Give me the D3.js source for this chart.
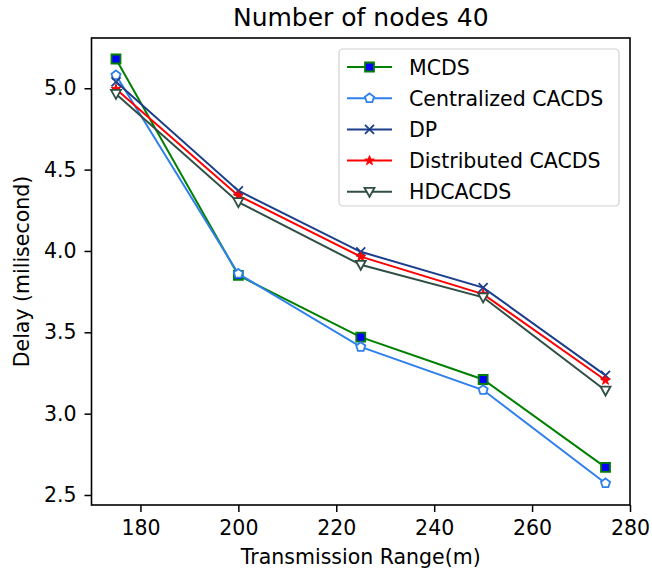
<!DOCTYPE html>
<html>
<head>
<meta charset="utf-8">
<title>Number of nodes 40</title>
<script src="https://cdn.jsdelivr.net/npm/d3@7"></script>
<style>
  body { margin: 0; background: #fff; }
  svg { font-family: "DejaVu Sans", sans-serif; }
</style>
</head>
<body>
<div id="chart"></div>
<script>
// data
var ranges = [175, 200, 225, 250, 275];
var mcds = [5.18, 3.85, 3.47, 3.21, 2.67];
var centralized = [5.08, 3.86, 3.41, 3.145, 2.572];
var dp = [5.04, 4.37, 3.995, 3.775, 3.235];
var distributed = [4.995, 4.34, 3.965, 3.735, 3.205];
var hdcacds = [4.965, 4.30, 3.915, 3.715, 3.142];
var xTicks = [180, 200, 220, 240, 260, 280];
var yTicks = [2.5, 3.0, 3.5, 4.0, 4.5, 5.0];

var series = [
  {name: "MCDS", values: mcds, color: "#008000", marker: "square", fill: "#0000ff"},
  {name: "Centralized CACDS", values: centralized, color: "#2f80ed", marker: "pentagon", fill: "#fff"},
  {name: "DP", values: dp, color: "#1c3f8c", marker: "x", fill: "none"},
  {name: "Distributed CACDS", values: distributed, color: "#ff0000", marker: "star", fill: "#ff0000"},
  {name: "HDCACDS", values: hdcacds, color: "#2f4f44", marker: "tri", fill: "#fff"}
];

var W = 652, H = 574;
var padL = 91.5, padR = 630, padT = 38, padB = 505;

var svg = d3.select("#chart").append("svg")
  .attr("width", W).attr("height", H);

var x = d3.scaleLinear().domain([170, 280]).range([padL, padR]);
var y = d3.scaleLinear().domain([2.4385, 5.309]).range([padB, padT]);

// marker paths
function markerPath(type) {
  if (type == "square") return "M-4.5,-4.5H4.5V4.5H-4.5Z";
  if (type == "x") return "M-4.5,-4.5L4.5,4.5M-4.5,4.5L4.5,-4.5";
  if (type == "tri") return "M-5,-4L5,-4L0,5Z";
  var n = type == "pentagon" ? 5 : 10;
  var pts = [];
  for (var i = 0; i < n; i++) {
    var a = -Math.PI / 2 + i * 2 * Math.PI / n;
    var r = type == "pentagon" ? 4.8 : (i % 2 ? 2 : 5);
    pts.push([r * Math.cos(a), r * Math.sin(a)]);
  }
  return "M" + pts.map(function(p){ return p[0].toFixed(2) + "," + p[1].toFixed(2); }).join("L") + "Z";
}

function drawMarker(g, s, px, py) {
  g.append("path")
    .attr("d", markerPath(s.marker))
    .attr("transform", "translate(" + px + "," + py + ")")
    .attr("fill", s.fill)
    .attr("stroke", s.color)
    .attr("stroke-width", s.marker == "star" ? 1 : 1.8)
    .attr("stroke-linejoin", "miter");
}

var line = d3.line()
  .x(function(d, i){ return x(ranges[i]); })
  .y(function(d){ return y(d); });

var plot = svg.append("g");
series.forEach(function(s) {
  plot.append("path")
    .datum(s.values)
    .attr("d", line)
    .attr("fill", "none")
    .attr("stroke", s.color)
    .attr("stroke-width", 2);
  s.values.forEach(function(v, i) {
    drawMarker(plot, s, x(ranges[i]), y(v));
  });
});

// axes
var xAxis = svg.append("g")
  .attr("transform", "translate(0," + padB + ")")
  .call(d3.axisBottom(x).tickValues(xTicks).tickSize(7).tickPadding(8).tickFormat(d3.format("d")));
var yAxis = svg.append("g")
  .attr("transform", "translate(" + padL + ",0)")
  .call(d3.axisLeft(y).tickValues(yTicks).tickSize(7).tickPadding(8).tickFormat(d3.format(".1f")));

[xAxis, yAxis].forEach(function(a) {
  a.select(".domain").remove();
  a.selectAll("line").attr("stroke", "#000").attr("stroke-width", 1.5);
  a.selectAll("text").attr("font-size", 20.5).attr("fill", "#000")
    .attr("font-family", "DejaVu Sans");
});

svg.append("rect")
  .attr("x", padL).attr("y", padT)
  .attr("width", padR - padL).attr("height", padB - padT)
  .attr("fill", "none").attr("stroke", "#000").attr("stroke-width", 1.6);

// labels
svg.append("text")
  .attr("x", (padL + padR) / 2).attr("y", 26)
  .attr("text-anchor", "middle").attr("font-size", 25)
  .text("Number of nodes 40");
svg.append("text")
  .attr("x", (padL + padR) / 2).attr("y", 564)
  .attr("text-anchor", "middle").attr("font-size", 20.5)
  .text("Transmission Range(m)");
svg.append("text")
  .attr("transform", "translate(29," + (padT + padB) / 2 + ") rotate(-90)")
  .attr("text-anchor", "middle").attr("font-size", 20.5)
  .text("Delay (milisecond)");

// legend
var lg = svg.append("g");
lg.append("rect")
  .attr("x", 339).attr("y", 49).attr("width", 280).attr("height", 157)
  .attr("rx", 4).attr("fill", "#fff").attr("fill-opacity", 0.8)
  .attr("stroke", "#d0d0d0").attr("stroke-width", 1.2);
series.forEach(function(s, i) {
  var ly = 67 + i * 31.2;
  lg.append("line")
    .attr("x1", 347).attr("x2", 392).attr("y1", ly).attr("y2", ly)
    .attr("stroke", s.color).attr("stroke-width", 2);
  drawMarker(lg, s, 369.5, ly);
  lg.append("text")
    .attr("x", 409).attr("y", ly + 7.5)
    .attr("font-size", 20.5)
    .text(s.name);
});
</script>
</body>
</html>
